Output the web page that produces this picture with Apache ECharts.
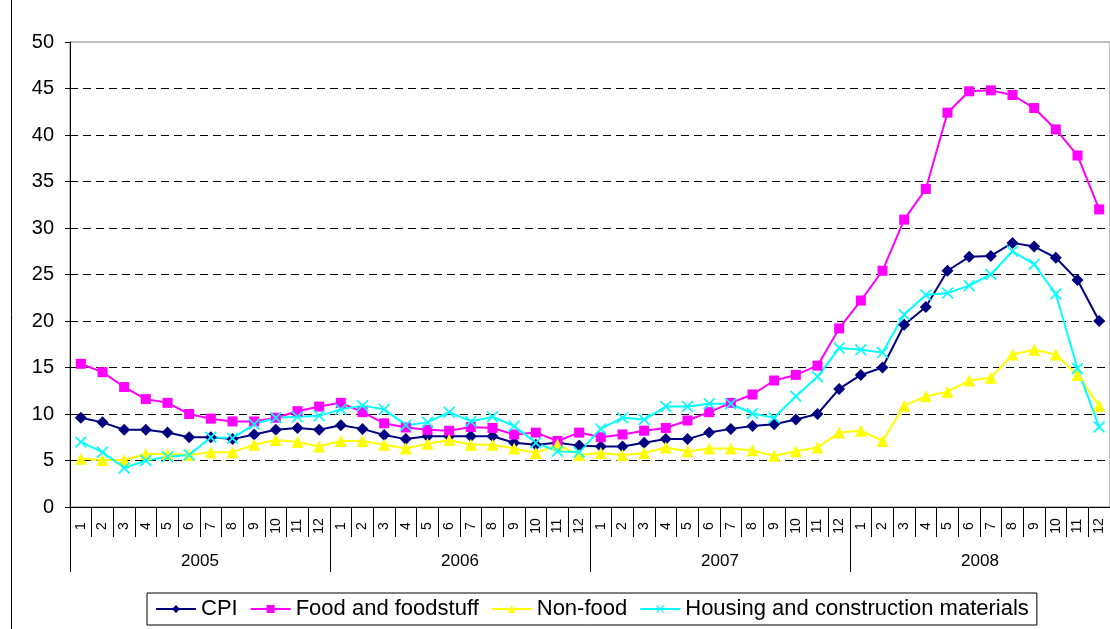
<!DOCTYPE html>
<html>
<head>
<meta charset="utf-8">
<title>CPI</title>
<style>
html,body{margin:0;padding:0;background:#fff;}
#chart{width:1110px;height:629px;}
</style>
</head>
<body>
<div id="chart"></div>
<script src="https://cdn.jsdelivr.net/npm/echarts@6/dist/echarts.min.js"></script>
<script>
var years = ['2005', '2006', '2007', '2008'];
var months = ['1','2','3','4','5','6','7','8','9','10','11','12'];

var cpi = [
  9.6, 9.1, 8.3, 8.3, 8.0, 7.5, 7.5, 7.3, 7.8, 8.3, 8.5, 8.3,
  8.8, 8.4, 7.75, 7.3, 7.6, 7.6, 7.6, 7.6, 6.9, 6.7, 6.9, 6.6,
  6.5, 6.5, 6.9, 7.3, 7.3, 8.0, 8.4, 8.7, 8.9, 9.4, 10.0, 12.7,
  14.2, 15.0, 19.6, 21.5, 25.4, 26.9, 27.0, 28.4, 28.0, 26.8, 24.4, 20.0
];
var food = [
  15.4, 14.5, 12.9, 11.6, 11.2, 10.0, 9.5, 9.2, 9.2, 9.6, 10.3, 10.8,
  11.2, 10.2, 9.0, 8.55, 8.3, 8.2, 8.6, 8.5, 7.8, 8.0, 7.1, 8.0,
  7.5, 7.8, 8.2, 8.5, 9.3, 10.2, 11.2, 12.1, 13.6, 14.2, 15.2, 19.2,
  22.2, 25.4, 30.9, 34.2, 42.4, 44.7, 44.8, 44.3, 42.9, 40.6, 37.8, 32.0
];
var nonFood = [
  5.2, 5.05, 5.05, 5.7, 5.7, 5.6, 5.9, 5.9, 6.7, 7.2, 7.0, 6.5,
  7.1, 7.1, 6.7, 6.3, 6.8, 7.2, 6.7, 6.7, 6.3, 5.8, 6.7, 5.6,
  5.8, 5.6, 5.8, 6.4, 6.0, 6.3, 6.3, 6.1, 5.5, 6.0, 6.4, 8.0,
  8.2, 7.1, 10.9, 11.9, 12.4, 13.6, 13.9, 16.4, 16.9, 16.4, 14.2, 10.9
];
var housing = [
  7.0, 5.9, 4.2, 5.0, 5.4, 5.6, 7.5, 7.4, 8.9, 9.6, 9.7, 9.8,
  10.5, 10.9, 10.5, 8.8, 9.1, 10.2, 9.2, 9.7, 8.7, 6.9, 6.0, 5.9,
  8.4, 9.6, 9.4, 10.8, 10.8, 11.1, 11.1, 10.05, 9.6, 11.9, 14.0, 17.1,
  16.9, 16.6, 20.7, 22.8, 23.0, 23.8, 25.0, 27.5, 26.1, 22.9, 14.9, 8.6
];

// one category per month, 4 years
var monthCats = [];
years.forEach(function (y) {
  months.forEach(function (m) { monthCats.push(y + '-' + m); });
});

var font = 'Liberation Sans, Arial, sans-serif';
var xMark = 'path://M0,1L1,0L5,4L9,0L10,1L6,5L10,9L9,10L5,6L1,10L0,9L4,5Z';

function line(name, data, color, symbol, size) {
  return {
    name: name,
    type: 'line',
    data: data,
    symbol: symbol,
    symbolSize: size,
    showAllSymbol: true,
    lineStyle: { color: color, width: 2 },
    itemStyle: { color: color },
    emphasis: { disabled: true }
  };
}

var option = {
  animation: false,
  backgroundColor: '#fff',
  textStyle: { fontFamily: font, color: '#000' },
  grid: {
    left: 70, top: 42, width: 1048, height: 465,
    show: true, borderColor: '#808080', borderWidth: 1
  },
  graphic: [{
    type: 'line',
    shape: { x1: 11.5, y1: 0, x2: 11.5, y2: 629 },
    style: { stroke: '#000', lineWidth: 1 }
  }],
  legend: {
    left: 147,
    top: 593,
    padding: [5, 8, 5, 8],
    borderColor: '#000',
    borderWidth: 1,
    itemGap: 12,
    itemWidth: 40,
    itemHeight: 10,
    textStyle: { fontSize: 22, color: '#000', fontFamily: font },
    data: ['CPI', 'Food and foodstuff', 'Non-food', 'Housing and construction materials']
  },
  xAxis: [
    {
      type: 'category',
      data: monthCats,
      position: 'bottom',
      boundaryGap: true,
      axisLine: { show: true, lineStyle: { color: '#000' } },
      axisTick: { show: true, interval: 0, length: 30, lineStyle: { color: '#000' } },
      axisLabel: {
        interval: 0,
        rotate: 90,
        margin: 19,
        align: 'center',
        verticalAlign: 'middle',
        fontSize: 14,
        color: '#000',
        formatter: function (v) { return v.split('-')[1]; }
      }
    },
    {
      type: 'category',
      data: years,
      position: 'bottom',
      boundaryGap: true,
      axisLine: { show: true, lineStyle: { color: '#000' } },
      axisTick: { show: true, interval: 0, length: 65, lineStyle: { color: '#000' } },
      axisLabel: { interval: 0, margin: 46, fontSize: 17, color: '#000' }
    }
  ],
  yAxis: {
    type: 'value',
    min: 0,
    max: 50,
    interval: 5,
    axisLine: { show: true, lineStyle: { color: '#000' } },
    axisTick: { show: true, length: 5, lineStyle: { color: '#000' } },
    axisLabel: { fontSize: 20, color: '#000', margin: 16 },
    splitLine: { showMaxLine: false, lineStyle: { color: '#000', type: [8, 5], width: 1 } }
  },
  series: [
    line('CPI', cpi, '#000080', 'diamond', 12),
    line('Food and foodstuff', food, '#FF00FF', 'rect', 10),
    line('Non-food', nonFood, '#FFFF00', 'triangle', 12),
    line('Housing and construction materials', housing, '#00FFFF', xMark, 12)
  ]
};

var myChart = echarts.init(document.getElementById('chart'));
myChart.setOption(option);
</script>
</body>
</html>
